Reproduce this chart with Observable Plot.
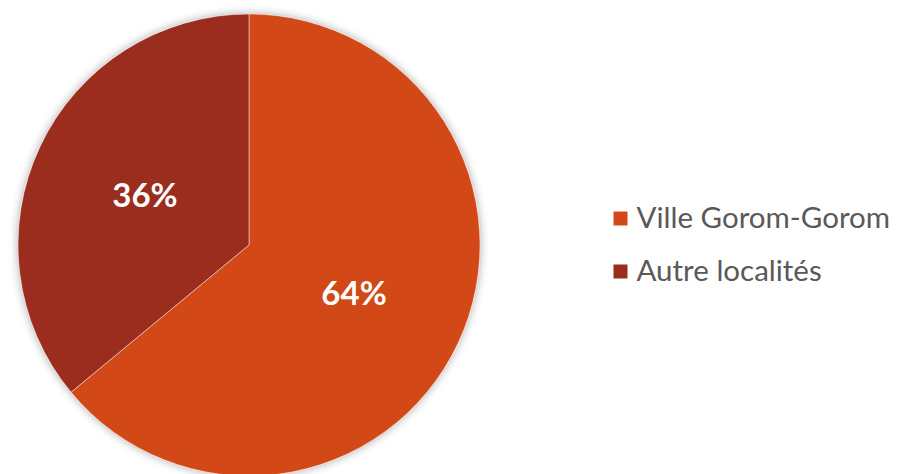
<!DOCTYPE html>
<html>
<head>
<meta charset="utf-8">
<script src="https://cdn.jsdelivr.net/npm/d3@7"></script>
<script src="https://cdn.jsdelivr.net/npm/@observablehq/plot@0.6"></script>
<style>
  html, body { margin: 0; padding: 0; background: #fff; }
  #chart svg { display: block; }
</style>
</head>
<body>
<div id="chart"></div>
<script>
const categories = ["Ville Gorom-Gorom", "Autre localités"];
const values = [64, 36];
const labels = ["64%", "36%"];
const colors = ["#D34817", "#9B2D1F"];

const W = 910, H = 474;
const cx = 249, cy = 245, R = 231;
const legendX = 620, legendY0 = 218, legendStep = 53;

const data = categories.map((c, i) => ({category: c, value: values[i], label: labels[i], color: colors[i]}));
const arcs = d3.pie().sort(null).value(d => d.value)(data);
const labelPos = arcs.map(a => {
  const m = (a.startAngle + a.endAngle) / 2;
  return {...a.data, lx: cx + Math.sin(m) * R * 0.5, ly: cy - Math.cos(m) * R * 0.5};
});
const legend = data.map((d, i) => ({...d, x: legendX, y: legendY0 + i * legendStep}));

function pieMark(index, scales, values, dimensions, context) {
  const x = scales.x, y = scales.y;
  const px = x(cx), py = y(cy), pr = x(cx + R) - x(cx);
  const arc = d3.arc().innerRadius(0).outerRadius(pr);
  const svgNS = "http://www.w3.org/2000/svg";
  const g = d3.select(context.document.createElementNS(svgNS, "g"))
    .attr("transform", `translate(${px},${py})`);
  const defs = g.append("defs");
  const f = defs.append("filter").attr("id", "pieShadow").attr("x", "-20%").attr("y", "-20%").attr("width", "140%").attr("height", "140%");
  f.append("feGaussianBlur").attr("in", "SourceAlpha").attr("stdDeviation", 5);
  f.append("feOffset").attr("dx", 0).attr("dy", 0).attr("result", "b");
  f.append("feComponentTransfer").append("feFuncA").attr("type", "linear").attr("slope", 0.35);
  const fm = f.append("feMerge");
  fm.append("feMergeNode");
  fm.append("feMergeNode").attr("in", "SourceGraphic");
  g.append("circle").attr("r", pr).attr("fill", "#fff").attr("filter", "url(#pieShadow)");
  g.selectAll("path.slice").data(arcs).join("path")
    .attr("class", "slice")
    .attr("d", arc)
    .attr("fill", d => d.data.color)
    .attr("stroke", "#ffffff")
    .attr("stroke-opacity", 0.45)
    .attr("stroke-width", 1);
  return g.node();
}

const chart = Plot.plot({
  width: W,
  height: H,
  margin: 0,
  x: {domain: [0, W], range: [0, W], axis: null},
  y: {domain: [0, H], range: [0, H], axis: null},
  style: {background: "#fff"},
  marks: [
    pieMark,
    Plot.text(labelPos, {
      x: "lx", y: "ly", text: "label",
      fill: "#fff", fontSize: 33, fontWeight: "bold",
      fontFamily: "Lato, 'Open Sans', sans-serif",
      textAnchor: "middle", lineAnchor: "middle"
    }),
    Plot.dot(legend, {
      x: "x", y: "y", symbol: "square", r: 7.9,
      fill: "color", stroke: null
    }),
    Plot.text(legend, {
      x: "x", y: "y", text: "category", dx: 16,
      textAnchor: "start", lineAnchor: "middle",
      fill: "#595959", fontSize: 29.5,
      fontFamily: "Lato, 'Open Sans', sans-serif"
    })
  ]
});
document.getElementById("chart").appendChild(chart);
</script>
</body>
</html>
